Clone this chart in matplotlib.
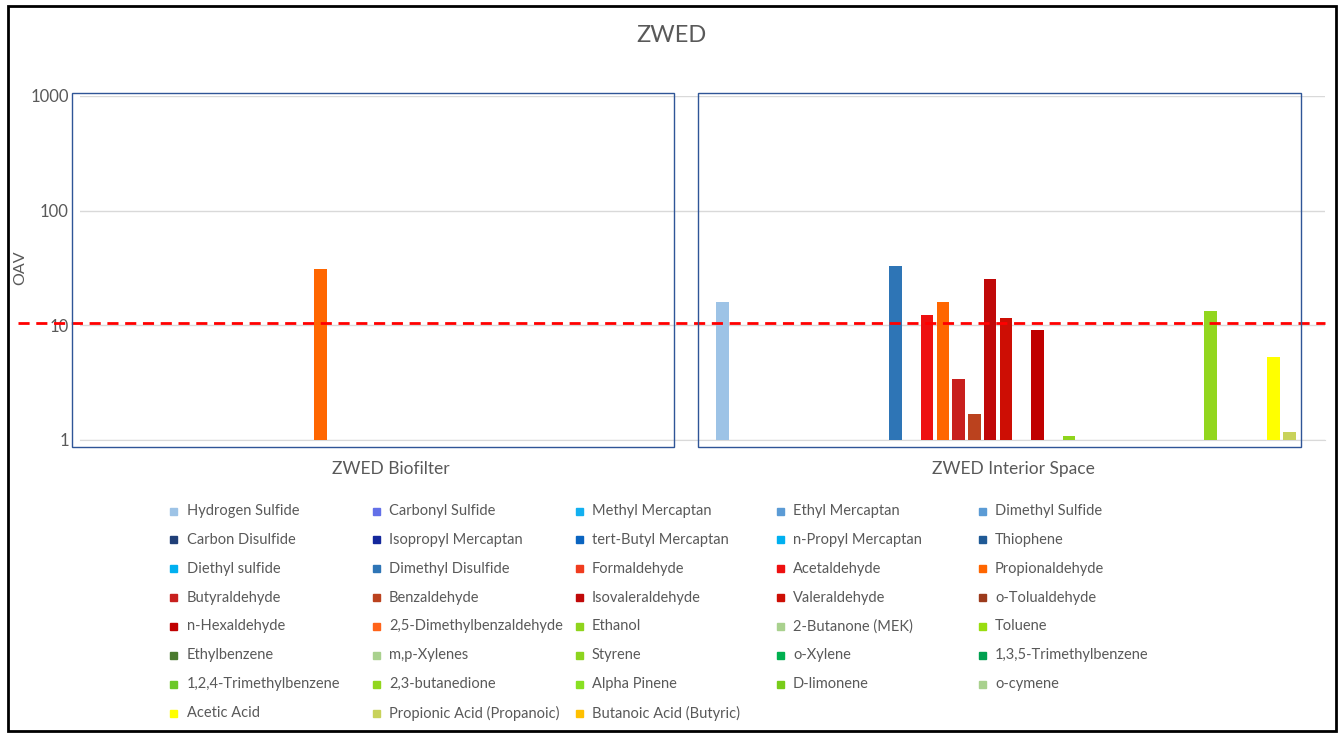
import matplotlib
matplotlib.use('Agg')
import matplotlib.pyplot as plt
import numpy as np
from matplotlib.patches import Rectangle

plt.rcParams['font.family'] = ['Lato', 'DejaVu Sans']

categories = ['ZWED Biofilter', 'ZWED Interior Space']

compounds = ['Hydrogen Sulfide', 'Carbonyl Sulfide', 'Methyl Mercaptan', 'Ethyl Mercaptan',
             'Dimethyl Sulfide', 'Carbon Disulfide', 'Isopropyl Mercaptan', 'tert-Butyl Mercaptan',
             'n-Propyl Mercaptan', 'Thiophene', 'Diethyl sulfide', 'Dimethyl Disulfide',
             'Formaldehyde', 'Acetaldehyde', 'Propionaldehyde', 'Butyraldehyde', 'Benzaldehyde',
             'Isovaleraldehyde', 'Valeraldehyde', 'o-Tolualdehyde', 'n-Hexaldehyde',
             '2,5-Dimethylbenzaldehyde', 'Ethanol', '2-Butanone (MEK)', 'Toluene',
             'Ethylbenzene', 'm,p-Xylenes', 'Styrene', 'o-Xylene', '1,3,5-Trimethylbenzene',
             '1,2,4-Trimethylbenzene', '2,3-butanedione', 'Alpha Pinene', 'D-limonene',
             'o-cymene', 'Acetic Acid', 'Propionic Acid (Propanoic)', 'Butanoic Acid (Butyric)']

colors = ['#9DC3E6', '#6370E8', '#12B0F0', '#5B9BD5', '#5B9BD5', '#203F78', '#14289C',
          '#0A64C0', '#00B0F0', '#1F5A96', '#00B0F0', '#2E75B6', '#F03C1E', '#EE1010',
          '#FF6600', '#C8201E', '#BB421E', '#C00808', '#CD0E04', '#9C3A1C', '#C00000',
          '#FF6319', '#8FD41C', '#A9D18E', '#99DD10', '#4A7A2E', '#A9D18E', '#8CD41E',
          '#00B050', '#00A050', '#6CC828', '#92D61E', '#88E022', '#78CC1A', '#A9D18E',
          '#FFFF00', '#C8D25A', '#FFC000']

# OAV per compound (0 = below 1 / not shown)
biofilter = [0, 0, 0, 0, 0, 0, 0, 0, 0, 0, 0, 0, 0, 0, 31, 0, 0, 0, 0, 0, 0, 0,
             0, 0, 0, 0, 0, 0, 0, 0, 0, 0, 0, 0, 0, 0, 0, 0]
interior = [16.0, 0, 0, 0, 0, 0, 0, 0, 0, 0, 0, 33, 0, 12.2, 15.9, 3.4, 1.7, 25.5, 11.7,
            0, 9.1, 0, 1.09, 0, 0, 0, 0, 0, 0, 0, 0, 13.3, 0, 0, 0, 5.26, 1.18, 0]

threshold = 10.5

W, H = 1343, 734
fig = plt.figure(figsize=(W / 100, H / 100), dpi=100)
ax = fig.add_axes([80 / W, 1 - 440 / H, 1245 / W, 344 / H])

n = len(compounds)
slot = 0.961 / n
x = np.arange(len(categories))
for i, name in enumerate(compounds):
    vals = np.array([biofilter[i], interior[i]], dtype=float)
    vals = np.where(vals > 0, vals, np.nan)
    ax.bar(x + (i - (n - 1) / 2) * slot, vals, width=slot * 0.8, bottom=0,
           color=colors[i], label=name, zorder=3)

ax.set_yscale('log')
ax.set_ylim(1, 1000)
ax.set_xlim(-0.5, 1.5)
ax.set_yticks([1, 10, 100, 1000])
ax.set_yticklabels(['1', '10', '100', '1000'])
ax.minorticks_off()
ax.set_xticks(x)
ax.set_xticklabels(categories)
ax.tick_params(length=0, labelsize=12, colors='#595959', pad=8)
ax.tick_params(axis='x', labelsize=12.5, pad=15)
ax.grid(axis='y', color='#D9D9D9', linewidth=1, zorder=0)
for s in ['top', 'right', 'left']:
    ax.spines[s].set_visible(False)
ax.spines['bottom'].set_color('#D9D9D9')
fig.text(20 / W, 1 - 268 / H, 'OAV', rotation=90, ha='center', va='center',
         fontsize=11.5, color='#595959')

# threshold line
ax.plot([-0.6, 1.5], [threshold, threshold], color='#FF0000', linestyle=(0, (4, 2.4)),
        linewidth=2, clip_on=False, zorder=5)

fig.text(0.5, 1 - 35 / H, 'ZWED', ha='center', va='center', fontsize=17, color='#595959')

# boxes round each group
for x0, x1 in [(72, 674), (698, 1301)]:
    fig.patches.append(Rectangle((x0 / W, 1 - 447 / H), (x1 - x0) / W, 354 / H,
                                 transform=fig.transFigure, fill=False,
                                 edgecolor='#2F5597', linewidth=1))

# outer border
fig.patches.append(Rectangle((8 / W, 1 - 731 / H), 1328 / W, 725 / H,
                             transform=fig.transFigure, fill=False,
                             edgecolor='black', linewidth=2))

# legend, row-major in 5 fixed-width columns
ncol = 5
col_x = [174, 376, 579, 780, 982]
for k, name in enumerate(compounds):
    r, c = divmod(k, ncol)
    yc = 511 + r * 28.86
    fig.patches.append(Rectangle(((col_x[c] - 3.5) / W, 1 - (yc + 3.5) / H), 7 / W, 7 / H,
                                 transform=fig.transFigure, color=colors[k]))
    fig.text((col_x[c] + 13) / W, 1 - yc / H, name, ha='left', va='center',
             fontsize=10.5, color='#595959')

fig.savefig('out.png', dpi=100)
